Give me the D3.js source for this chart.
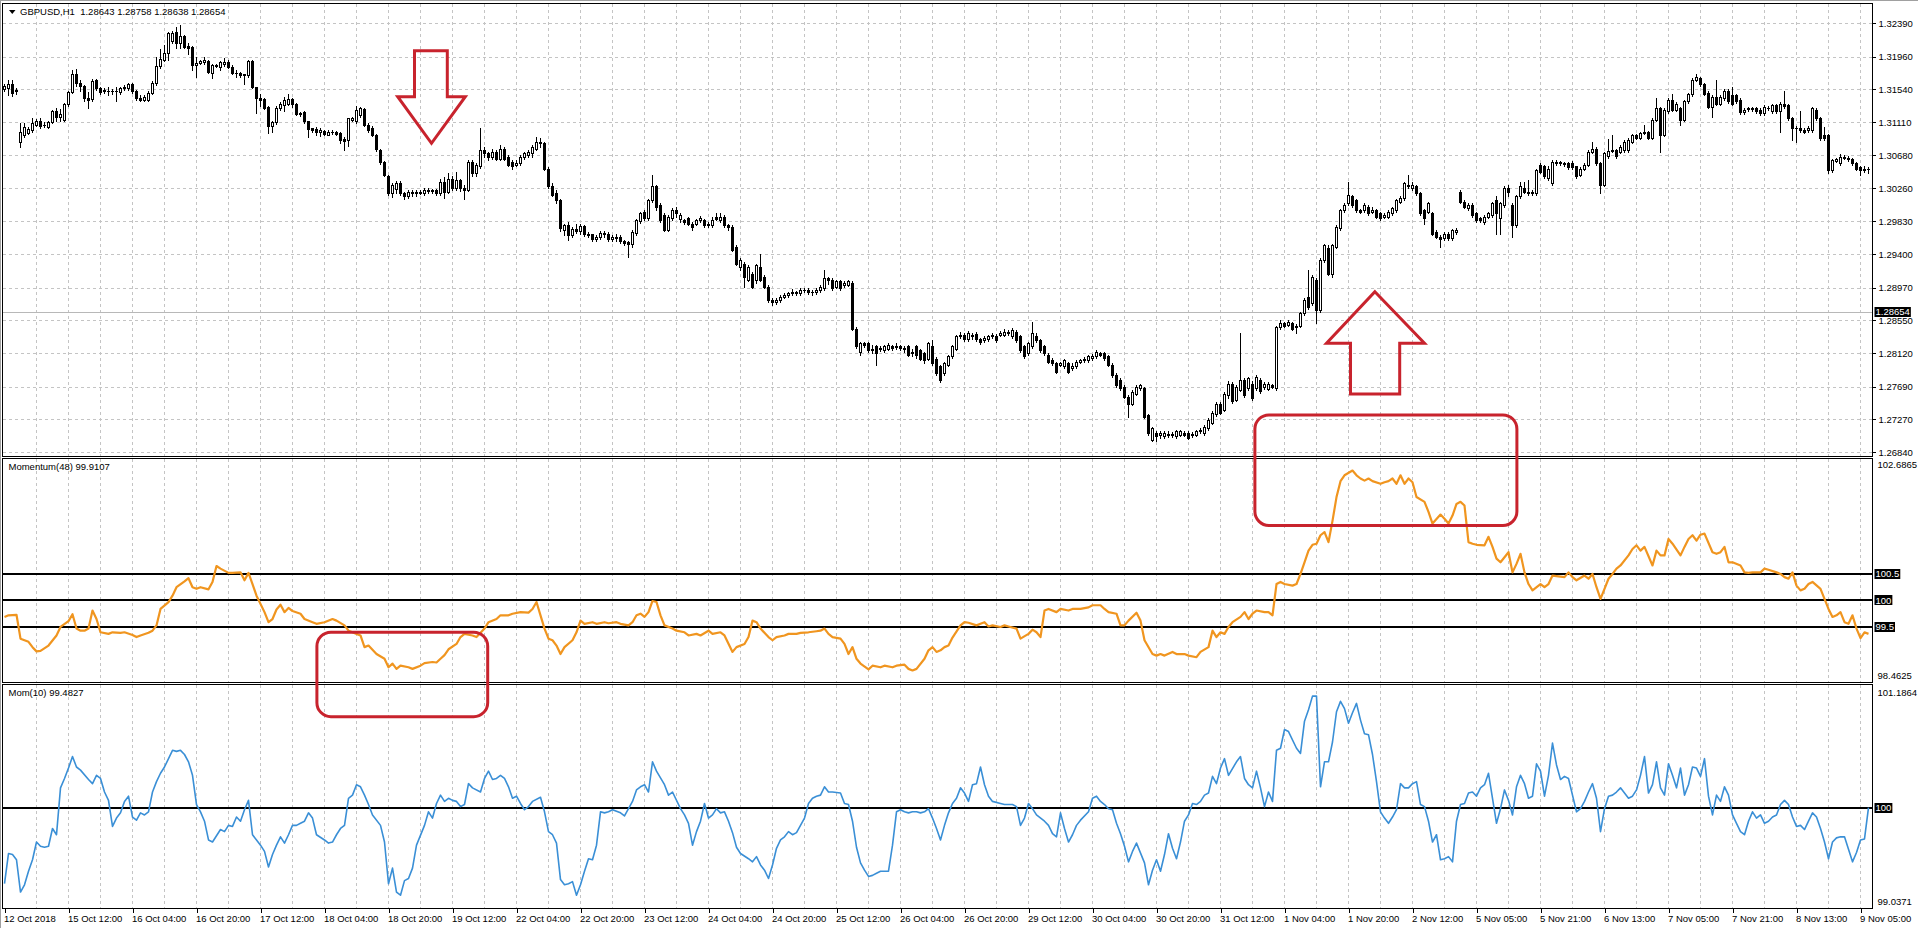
<!DOCTYPE html>
<html><head><meta charset="utf-8">
<script src="https://cdn.jsdelivr.net/npm/d3@7/dist/d3.min.js"></script>
<style>
html,body{margin:0;padding:0;background:#fff;overflow:hidden;}
svg{display:block;font-family:"Liberation Sans",Arial,sans-serif;}
</style></head><body>
<svg id="chart" width="1918" height="928"></svg>
<script>
// ---------------- DATA ----------------
const headerText = "GBPUSD,H1  1.28643 1.28758 1.28638 1.28654";
const momLabel = "Momentum(48) 99.9107";
const mom10Label = "Mom(10) 99.4827";
const bidPrice = 1.28654;

const timeLabels = ["12 Oct 2018","15 Oct 12:00","16 Oct 04:00","16 Oct 20:00","17 Oct 12:00","18 Oct 04:00","18 Oct 20:00","19 Oct 12:00","22 Oct 04:00","22 Oct 20:00","23 Oct 12:00","24 Oct 04:00","24 Oct 20:00","25 Oct 12:00","26 Oct 04:00","26 Oct 20:00","29 Oct 12:00","30 Oct 04:00","30 Oct 20:00","31 Oct 12:00","1 Nov 04:00","1 Nov 20:00","2 Nov 12:00","5 Nov 05:00","5 Nov 21:00","6 Nov 13:00","7 Nov 05:00","7 Nov 21:00","8 Nov 13:00","9 Nov 05:00"];
const priceTicks = [1.32390,1.31960,1.31540,1.31110,1.30680,1.30260,1.29830,1.29400,1.28970,1.28550,1.28120,1.27690,1.27270,1.26840];
const priceRange = [1.26792, 1.32653];
const momRange = [98.4625, 102.6865];
const mom10Range = [99.0371, 101.1864];
const momLevels = [100.5, 100, 99.5];
const mom10Levels = [100];

const opens = [
1.3154,1.3155,1.3161,1.3151,1.3086,1.3095,1.3097,1.3101,1.3108,1.3113,
1.3107,1.3105,1.3111,1.3125,1.3118,1.3114,1.3134,1.3150,1.3174,1.3162,
1.3158,1.3143,1.3141,1.3166,1.3155,1.3151,1.3152,1.3151,1.3151,1.3150,
1.3155,1.3155,1.3160,1.3151,1.3143,1.3140,1.3140,1.3149,1.3162,1.3184,
1.3192,1.3200,1.3216,1.3228,1.3213,1.3222,1.3210,1.3208,1.3185,1.3188,
1.3189,1.3190,1.3175,1.3184,1.3183,1.3186,1.3189,1.3183,1.3175,1.3175,
1.3172,1.3172,1.3190,1.3156,1.3143,1.3141,1.3131,1.3106,1.3111,1.3129,
1.3133,1.3135,1.3141,1.3134,1.3123,1.3124,1.3112,1.3103,1.3102,1.3099,
1.3100,1.3095,1.3099,1.3098,1.3097,1.3089,1.3088,1.3114,1.3112,1.3120,
1.3128,1.3108,1.3104,1.3095,1.3075,1.3060,1.3042,1.3019,1.3025,1.3032,
1.3019,1.3015,1.3021,1.3019,1.3021,1.3019,1.3024,1.3022,1.3023,1.3019,
1.3034,1.3021,1.3038,1.3026,1.3036,1.3026,1.3024,1.3060,1.3045,1.3054,
1.3075,1.3071,1.3066,1.3073,1.3064,1.3077,1.3066,1.3060,1.3056,1.3058,
1.3066,1.3069,1.3071,1.3077,1.3086,1.3084,1.3051,1.3028,1.3019,1.3010,
1.2972,1.2978,1.2965,1.2973,1.2970,1.2977,1.2967,1.2966,1.2960,1.2962,
1.2968,1.2967,1.2960,1.2963,1.2963,1.2957,1.2956,1.2953,1.2968,1.2983,
1.2995,1.2987,1.3010,1.3028,1.3004,1.2991,1.2972,1.2987,1.2997,1.2986,
1.2984,1.2987,1.2980,1.2980,1.2984,1.2984,1.2980,1.2978,1.2989,1.2984,
1.2989,1.2978,1.2976,1.2950,1.2924,1.2928,1.2907,1.2915,1.2907,1.2924,
1.2911,1.2898,1.2881,1.2879,1.2881,1.2885,1.2887,1.2890,1.2891,1.2890,
1.2894,1.2894,1.2892,1.2891,1.2894,1.2896,1.2909,1.2907,1.2898,1.2905,
1.2900,1.2901,1.2903,1.2844,1.2814,1.2825,1.2825,1.2818,1.2821,1.2817,
1.2816,1.2818,1.2821,1.2820,1.2821,1.2819,1.2821,1.2814,1.2821,1.2816,
1.2812,1.2805,1.2821,1.2805,1.2795,1.2786,1.2797,1.2808,1.2818,1.2834,
1.2836,1.2830,1.2836,1.2837,1.2830,1.2829,1.2830,1.2834,1.2835,1.2836,
1.2836,1.2838,1.2834,1.2840,1.2834,1.2821,1.2812,1.2821,1.2834,1.2829,
1.2821,1.2810,1.2803,1.2799,1.2797,1.2795,1.2799,1.2793,1.2795,1.2801,
1.2803,1.2803,1.2806,1.2808,1.2812,1.2812,1.2808,1.2797,1.2784,1.2778,
1.2769,1.2756,1.2747,1.2760,1.2767,1.2767,1.2732,1.2700,1.2709,1.2706,
1.2705,1.2708,1.2706,1.2705,1.2707,1.2709,1.2709,1.2706,1.2707,1.2711,
1.2709,1.2715,1.2722,1.2733,1.2747,1.2739,1.2758,1.2773,1.2752,1.2765,
1.2778,1.2767,1.2773,1.2767,1.2778,1.2768,1.2766,1.2771,1.2767,1.2846,
1.2851,1.2849,1.2851,1.2846,1.2848,1.2864,1.2885,1.2877,1.2907,1.2868,
1.2933,1.2948,1.2915,1.2950,1.2974,1.2997,1.3006,1.3015,1.3010,1.2997,
1.2997,1.3002,1.2995,1.2997,1.2993,1.2989,1.2989,1.2993,1.2997,1.3008,
1.3013,1.3030,1.3026,1.3028,1.3019,1.2997,1.2995,1.2993,1.2969,1.2963,
1.2961,1.2967,1.2961,1.2969,1.3021,1.3008,1.3000,1.3004,1.2993,1.2987,
1.2982,1.2989,1.2991,1.3010,1.2987,1.3004,1.3026,1.3004,1.2978,1.3015,
1.3026,1.3021,1.3019,1.3019,1.3056,1.3054,1.3039,1.3032,1.3058,1.3059,
1.3058,1.3058,1.3058,1.3054,1.3043,1.3051,1.3056,1.3073,1.3077,1.3058,
1.3030,1.3067,1.3074,1.3075,1.3073,1.3075,1.3075,1.3086,1.3094,1.3091,
1.3097,1.3098,1.3091,1.3114,1.3129,1.3095,1.3125,1.3140,1.3127,1.3129,
1.3114,1.3138,1.3147,1.3166,1.3168,1.3160,1.3149,1.3131,1.3144,1.3135,
1.3142,1.3152,1.3146,1.3146,1.3140,1.3124,1.3128,1.3129,1.3129,1.3127,
1.3123,1.3130,1.3125,1.3133,1.3125,1.3135,1.3133,1.3116,1.3103,1.3104,
1.3101,1.3101,1.3101,1.3127,1.3116,1.3094,1.3094,1.3049,1.3061,1.3058,
1.3066,1.3065,1.3063,1.3058,1.3053,1.3049,1.3051];

const highs = [
1.3161,1.3166,1.3166,1.3155,1.3110,1.3110,1.3105,1.3116,1.3115,1.3116,
1.3111,1.3113,1.3127,1.3130,1.3128,1.3136,1.3152,1.3179,1.3180,1.3166,
1.3159,1.3150,1.3167,1.3167,1.3157,1.3155,1.3156,1.3154,1.3157,1.3157,
1.3159,1.3162,1.3162,1.3153,1.3146,1.3146,1.3152,1.3164,1.3196,1.3206,
1.3211,1.3228,1.3229,1.3234,1.3237,1.3224,1.3213,1.3210,1.3196,1.3192,
1.3196,1.3192,1.3187,1.3187,1.3190,1.3194,1.3191,1.3185,1.3178,1.3176,
1.3174,1.3192,1.3192,1.3157,1.3148,1.3143,1.3132,1.3113,1.3132,1.3137,
1.3144,1.3148,1.3143,1.3136,1.3124,1.3125,1.3113,1.3104,1.3105,1.3103,
1.3101,1.3101,1.3101,1.3100,1.3099,1.3092,1.3117,1.3118,1.3132,1.3131,
1.3130,1.3110,1.3106,1.3096,1.3076,1.3061,1.3043,1.3032,1.3035,1.3035,
1.3021,1.3023,1.3024,1.3023,1.3024,1.3026,1.3026,1.3025,1.3025,1.3038,
1.3040,1.3045,1.3041,1.3047,1.3038,1.3030,1.3062,1.3062,1.3058,1.3103,
1.3079,1.3073,1.3077,1.3075,1.3082,1.3079,1.3069,1.3062,1.3062,1.3068,
1.3073,1.3075,1.3082,1.3092,1.3090,1.3086,1.3053,1.3032,1.3023,1.3012,
1.2980,1.2982,1.2976,1.2980,1.2979,1.2978,1.2969,1.2967,1.2965,1.2970,
1.2970,1.2969,1.2965,1.2966,1.2965,1.2959,1.2958,1.2971,1.2986,1.2995,
1.2998,1.3012,1.3043,1.3030,1.3006,1.2993,1.2991,1.3000,1.3002,1.2993,
1.2986,1.2989,1.2982,1.2986,1.2990,1.2986,1.2982,1.2989,1.2993,1.2993,
1.2991,1.2980,1.2978,1.2952,1.2935,1.2930,1.2926,1.2917,1.2928,1.2941,
1.2913,1.2900,1.2883,1.2884,1.2888,1.2890,1.2892,1.2895,1.2893,1.2897,
1.2897,1.2896,1.2894,1.2896,1.2900,1.2920,1.2911,1.2909,1.2907,1.2907,
1.2905,1.2907,1.2905,1.2846,1.2827,1.2827,1.2827,1.2823,1.2823,1.2821,
1.2823,1.2826,1.2823,1.2825,1.2823,1.2822,1.2823,1.2817,1.2823,1.2818,
1.2814,1.2827,1.2829,1.2807,1.2797,1.2801,1.2810,1.2823,1.2836,1.2840,
1.2838,1.2841,1.2838,1.2839,1.2832,1.2834,1.2836,1.2838,1.2837,1.2841,
1.2843,1.2842,1.2845,1.2842,1.2836,1.2823,1.2827,1.2853,1.2838,1.2831,
1.2823,1.2812,1.2806,1.2801,1.2801,1.2805,1.2801,1.2799,1.2803,1.2805,
1.2807,1.2810,1.2811,1.2816,1.2814,1.2814,1.2810,1.2799,1.2786,1.2780,
1.2771,1.2758,1.2764,1.2771,1.2773,1.2769,1.2734,1.2717,1.2711,1.2711,
1.2711,1.2711,1.2710,1.2713,1.2713,1.2711,1.2711,1.2710,1.2713,1.2716,
1.2719,1.2728,1.2737,1.2749,1.2749,1.2762,1.2776,1.2775,1.2771,1.2838,
1.2780,1.2782,1.2776,1.2784,1.2780,1.2775,1.2775,1.2773,1.2848,1.2855,
1.2853,1.2855,1.2853,1.2850,1.2866,1.2883,1.2920,1.2913,1.2909,1.2936,
1.2954,1.2952,1.2954,1.2978,1.2999,1.3006,1.3034,1.3017,1.3012,1.2999,
1.3006,1.3004,1.3002,1.2999,1.2995,1.2993,1.2997,1.3002,1.3012,1.3015,
1.3034,1.3043,1.3034,1.3030,1.3021,1.2999,1.3008,1.2995,1.2971,1.2965,
1.2969,1.2969,1.2973,1.2974,1.3023,1.3010,1.3006,1.3006,1.2995,1.2989,
1.2991,1.2995,1.3008,1.3015,1.3008,1.3028,1.3030,1.3006,1.3017,1.3034,
1.3034,1.3036,1.3023,1.3051,1.3058,1.3056,1.3054,1.3062,1.3062,1.3061,
1.3060,1.3060,1.3061,1.3055,1.3053,1.3058,1.3075,1.3086,1.3079,1.3060,
1.3073,1.3089,1.3094,1.3077,1.3081,1.3088,1.3091,1.3096,1.3096,1.3099,
1.3107,1.3100,1.3116,1.3142,1.3131,1.3129,1.3142,1.3148,1.3137,1.3131,
1.3140,1.3149,1.3168,1.3174,1.3170,1.3162,1.3151,1.3146,1.3166,1.3146,
1.3154,1.3154,1.3157,1.3148,1.3142,1.3129,1.3131,1.3131,1.3131,1.3129,
1.3133,1.3132,1.3135,1.3135,1.3137,1.3151,1.3135,1.3118,1.3106,1.3125,
1.3103,1.3106,1.3131,1.3129,1.3118,1.3105,1.3096,1.3064,1.3065,1.3070,
1.3068,1.3067,1.3065,1.3060,1.3055,1.3054,1.3053];

const lows = [
1.3151,1.3146,1.3145,1.3148,1.3079,1.3092,1.3096,1.3099,1.3106,1.3104,
1.3105,1.3103,1.3110,1.3112,1.3113,1.3112,1.3132,1.3149,1.3158,1.3151,
1.3138,1.3129,1.3139,1.3153,1.3147,1.3149,1.3146,1.3148,1.3138,1.3148,
1.3153,1.3153,1.3149,1.3140,1.3138,1.3138,1.3138,1.3147,1.3159,1.3181,
1.3190,1.3191,1.3214,1.3207,1.3207,1.3207,1.3199,1.3178,1.3169,1.3186,
1.3187,1.3175,1.3168,1.3182,1.3179,1.3184,1.3181,1.3173,1.3169,1.3170,
1.3160,1.3170,1.3155,1.3123,1.3132,1.3128,1.3097,1.3099,1.3109,1.3127,
1.3125,1.3133,1.3131,1.3120,1.3119,1.3110,1.3092,1.3099,1.3094,1.3093,
1.3094,1.3094,1.3096,1.3095,1.3084,1.3075,1.3080,1.3112,1.3110,1.3118,
1.3106,1.3099,1.3093,1.3074,1.3057,1.3041,1.3017,1.3014,1.3020,1.3017,
1.3012,1.3013,1.3016,1.3015,1.3018,1.3017,1.3019,1.3020,1.3017,1.3017,
1.3013,1.3019,1.3023,1.3024,1.3022,1.3012,1.3022,1.3041,1.3041,1.3052,
1.3066,1.3062,1.3064,1.3062,1.3062,1.3062,1.3054,1.3051,1.3054,1.3056,
1.3064,1.3066,1.3066,1.3075,1.3079,1.3049,1.3026,1.3015,1.3006,1.2970,
1.2965,1.2959,1.2962,1.2968,1.2967,1.2964,1.2962,1.2957,1.2958,1.2960,
1.2963,1.2958,1.2958,1.2958,1.2955,1.2952,1.2937,1.2950,1.2965,1.2981,
1.2984,1.2984,1.3008,1.2998,1.2982,1.2970,1.2970,1.2984,1.2989,1.2982,
1.2980,1.2978,1.2972,1.2978,1.2982,1.2976,1.2976,1.2976,1.2984,1.2982,
1.2976,1.2972,1.2944,1.2926,1.2920,1.2898,1.2905,1.2896,1.2903,1.2905,
1.2896,1.2879,1.2875,1.2876,1.2879,1.2883,1.2885,1.2888,1.2887,1.2888,
1.2892,1.2889,1.2888,1.2889,1.2892,1.2894,1.2902,1.2894,1.2896,1.2894,
1.2898,1.2899,1.2842,1.2819,1.2810,1.2820,1.2814,1.2812,1.2797,1.2815,
1.2814,1.2816,1.2816,1.2818,1.2816,1.2814,1.2808,1.2809,1.2806,1.2803,
1.2800,1.2803,1.2797,1.2784,1.2775,1.2784,1.2795,1.2806,1.2816,1.2832,
1.2828,1.2828,1.2831,1.2828,1.2824,1.2827,1.2828,1.2832,1.2827,1.2834,
1.2834,1.2836,1.2832,1.2827,1.2814,1.2806,1.2810,1.2819,1.2827,1.2814,
1.2810,1.2799,1.2797,1.2786,1.2795,1.2793,1.2786,1.2791,1.2793,1.2799,
1.2801,1.2801,1.2804,1.2806,1.2808,1.2804,1.2795,1.2782,1.2769,1.2765,
1.2754,1.2730,1.2745,1.2758,1.2765,1.2728,1.2707,1.2698,1.2698,1.2703,
1.2703,1.2704,1.2704,1.2703,1.2705,1.2705,1.2701,1.2704,1.2705,1.2709,
1.2707,1.2713,1.2720,1.2731,1.2733,1.2737,1.2754,1.2748,1.2750,1.2763,
1.2756,1.2765,1.2752,1.2765,1.2761,1.2766,1.2764,1.2767,1.2765,1.2844,
1.2846,1.2847,1.2842,1.2838,1.2846,1.2862,1.2870,1.2875,1.2851,1.2866,
1.2930,1.2913,1.2911,1.2948,1.2972,1.2995,1.3004,1.3002,1.2995,1.2993,
1.2995,1.2991,1.2993,1.2987,1.2985,1.2987,1.2987,1.2991,1.2995,1.3006,
1.3010,1.3026,1.3024,1.3017,1.2991,1.2980,1.2993,1.2965,1.2961,1.2950,
1.2959,1.2959,1.2959,1.2966,1.3006,1.3000,1.2998,1.2989,1.2982,1.2982,
1.2980,1.2987,1.2989,1.2967,1.2967,1.3002,1.3015,1.2963,1.2976,1.3013,
1.3019,1.3017,1.3017,1.3017,1.3045,1.3039,1.3036,1.3030,1.3056,1.3056,
1.3054,1.3051,1.3051,1.3039,1.3041,1.3049,1.3054,1.3071,1.3056,1.3019,
1.3028,1.3065,1.3072,1.3065,1.3071,1.3073,1.3073,1.3084,1.3089,1.3089,
1.3096,1.3089,1.3089,1.3112,1.3073,1.3093,1.3123,1.3125,1.3125,1.3107,
1.3112,1.3136,1.3145,1.3164,1.3158,1.3146,1.3129,1.3118,1.3133,1.3133,
1.3140,1.3136,1.3133,1.3136,1.3122,1.3122,1.3126,1.3126,1.3123,1.3120,
1.3121,1.3127,1.3123,1.3123,1.3099,1.3130,1.3114,1.3088,1.3086,1.3099,
1.3097,1.3099,1.3099,1.3114,1.3088,1.3088,1.3045,1.3047,1.3059,1.3056,
1.3063,1.3061,1.3056,1.3049,1.3043,1.3047,1.3045];

const closes = [
1.3158,1.3161,1.3149,1.3153,1.3099,1.3105,1.3102,1.3110,1.3112,1.3106,
1.3108,1.3111,1.3125,1.3118,1.3122,1.3134,1.3150,1.3174,1.3162,1.3158,
1.3143,1.3140,1.3165,1.3155,1.3150,1.3153,1.3151,1.3151,1.3152,1.3155,
1.3156,1.3160,1.3151,1.3142,1.3140,1.3144,1.3149,1.3162,1.3184,1.3193,
1.3201,1.3226,1.3227,1.3213,1.3222,1.3209,1.3207,1.3185,1.3188,1.3190,
1.3192,1.3176,1.3185,1.3185,1.3189,1.3189,1.3183,1.3175,1.3175,1.3172,
1.3173,1.3190,1.3156,1.3142,1.3140,1.3130,1.3106,1.3111,1.3130,1.3134,
1.3140,1.3141,1.3134,1.3122,1.3122,1.3112,1.3102,1.3101,1.3099,1.3101,
1.3096,1.3099,1.3098,1.3096,1.3088,1.3087,1.3116,1.3116,1.3127,1.3129,
1.3108,1.3101,1.3095,1.3076,1.3059,1.3043,1.3019,1.3030,1.3032,1.3019,
1.3015,1.3021,1.3019,1.3021,1.3020,1.3024,1.3022,1.3023,1.3019,1.3034,
1.3021,1.3038,1.3026,1.3036,1.3026,1.3024,1.3060,1.3045,1.3056,1.3075,
1.3071,1.3066,1.3073,1.3064,1.3077,1.3064,1.3056,1.3054,1.3058,1.3066,
1.3071,1.3073,1.3079,1.3086,1.3084,1.3051,1.3028,1.3017,1.3010,1.2974,
1.2978,1.2965,1.2973,1.2970,1.2977,1.2967,1.2965,1.2960,1.2962,1.2968,
1.2966,1.2960,1.2963,1.2961,1.2957,1.2955,1.2953,1.2969,1.2984,1.2993,
1.2987,1.3010,1.3028,1.3002,1.2984,1.2972,1.2989,1.2997,1.2993,1.2991,
1.2982,1.2980,1.2976,1.2984,1.2987,1.2978,1.2978,1.2985,1.2986,1.2989,
1.2978,1.2976,1.2946,1.2928,1.2933,1.2911,1.2924,1.2898,1.2926,1.2907,
1.2898,1.2881,1.2879,1.2881,1.2885,1.2888,1.2890,1.2892,1.2890,1.2894,
1.2894,1.2892,1.2891,1.2894,1.2898,1.2909,1.2907,1.2896,1.2905,1.2896,
1.2903,1.2905,1.2844,1.2821,1.2825,1.2823,1.2816,1.2816,1.2812,1.2819,
1.2821,1.2823,1.2819,1.2821,1.2819,1.2817,1.2810,1.2812,1.2810,1.2805,
1.2803,1.2825,1.2799,1.2786,1.2778,1.2799,1.2808,1.2821,1.2834,1.2836,
1.2830,1.2838,1.2834,1.2830,1.2827,1.2832,1.2834,1.2836,1.2829,1.2838,
1.2839,1.2840,1.2842,1.2829,1.2816,1.2808,1.2825,1.2838,1.2829,1.2816,
1.2812,1.2801,1.2799,1.2788,1.2799,1.2803,1.2788,1.2795,1.2801,1.2803,
1.2805,1.2808,1.2808,1.2814,1.2810,1.2806,1.2797,1.2784,1.2771,1.2767,
1.2756,1.2747,1.2762,1.2769,1.2771,1.2730,1.2709,1.2715,1.2705,1.2709,
1.2709,1.2706,1.2708,1.2711,1.2711,1.2707,1.2703,1.2708,1.2711,1.2713,
1.2717,1.2726,1.2735,1.2747,1.2735,1.2760,1.2773,1.2750,1.2769,1.2778,
1.2758,1.2780,1.2754,1.2782,1.2763,1.2773,1.2773,1.2769,1.2846,1.2851,
1.2848,1.2853,1.2844,1.2848,1.2864,1.2881,1.2872,1.2911,1.2868,1.2933,
1.2952,1.2915,1.2952,1.2976,1.2997,1.3004,1.3017,1.3004,1.2997,1.2995,
1.3004,1.2993,1.2997,1.2989,1.2987,1.2991,1.2995,1.3000,1.3010,1.3013,
1.3032,1.3028,1.3030,1.3019,1.2993,1.2987,1.3006,1.2967,1.2963,1.2960,
1.2967,1.2961,1.2971,1.2971,1.3008,1.3002,1.3004,1.2991,1.2984,1.2984,
1.2989,1.2993,1.3006,1.2993,1.3006,1.3026,1.3021,1.2978,1.3015,1.3028,
1.3021,1.3019,1.3021,1.3049,1.3047,1.3041,1.3051,1.3060,1.3059,1.3058,
1.3057,1.3053,1.3053,1.3041,1.3051,1.3056,1.3073,1.3077,1.3058,1.3030,
1.3071,1.3074,1.3075,1.3067,1.3079,1.3086,1.3088,1.3094,1.3091,1.3097,
1.3099,1.3091,1.3114,1.3129,1.3095,1.3127,1.3140,1.3127,1.3135,1.3114,
1.3138,1.3147,1.3166,1.3169,1.3160,1.3148,1.3131,1.3144,1.3135,1.3144,
1.3152,1.3138,1.3135,1.3138,1.3124,1.3127,1.3129,1.3128,1.3125,1.3123,
1.3131,1.3129,1.3133,1.3125,1.3135,1.3132,1.3116,1.3103,1.3104,1.3101,
1.3099,1.3104,1.3129,1.3116,1.3090,1.3090,1.3049,1.3062,1.3063,1.3066,
1.3065,1.3063,1.3058,1.3051,1.3049,1.3051,1.3050];

// Momentum(48) readings: bar index -> value
const momIdx = [0,1,3,4,6,7,8,9,11,13,14,16,17,18,19,20,21,22,23,24,26,27,29,30,32,33,34,36,37,38,39,41,42,43,45,46,47,48,49,51,52,53,54,56,57,59,60,61,62,63,65,66,67,68,69,70,71,72,74,75,77,78,80,82,83,85,86,87,88,89,90,91,93,95,96,97,98,99,101,102,104,105,107,108,109,110,111,113,114,115,117,118,120,121,123,124,126,127,129,131,132,133,134,135,136,137,138,139,140,142,143,144,145,147,148,150,151,153,154,156,157,158,159,160,161,162,163,164,165,167,168,170,171,173,174,176,177,179,180,182,183,185,186,187,188,189,191,192,193,195,196,198,199,201,203,204,205,206,207,209,210,211,212,213,214,216,217,219,220,222,223,225,226,227,228,230,231,232,233,234,235,236,237,239,240,241,243,244,245,246,247,249,250,251,253,254,256,257,258,259,260,261,263,264,266,267,269,271,272,274,275,276,278,279,280,281,283,284,285,287,288,289,290,292,293,295,296,298,299,301,302,303,304,305,306,307,309,310,311,312,313,315,316,317,318,319,320,322,323,324,325,326,327,328,329,330,331,332,333,334,335,337,338,339,340,341,342,344,345,346,347,348,349,350,351,352,353,355,356,357,359,360,361,362,363,364,365,366,367,368,370,371,372,373,374,376,377,378,379,380,381,382,384,385,386,387,388,390,391,392,393,395,396,397,398,399,400,401,402,403,404,406,407,408,409,410,412,413,414,415,416,417,419,420,421,422,423,424,425,427,428,429,430,431,432,434,435,436,437,439,440,441,443,444,445,446,447,448,449,450,451,452,454,455,456,457,458,459,460,461,462,463,464,465,466];
const momVal = [99.69,99.72,99.73,99.28,99.22,99.12,99.04,99.05,99.15,99.34,99.50,99.61,99.74,99.47,99.43,99.43,99.47,99.81,99.65,99.40,99.37,99.40,99.39,99.40,99.35,99.31,99.34,99.39,99.43,99.53,99.84,99.97,100.09,100.25,100.36,100.42,100.25,100.22,100.25,100.21,100.35,100.65,100.60,100.52,100.52,100.53,100.38,100.52,100.31,100.09,99.78,99.59,99.65,99.83,99.92,99.78,99.86,99.80,99.75,99.65,99.59,99.56,99.59,99.65,99.62,99.53,99.43,99.40,99.37,99.34,99.12,99.15,98.99,98.90,98.74,98.81,98.71,98.77,98.74,98.71,98.77,98.82,98.84,98.83,98.90,98.97,99.08,99.18,99.31,99.37,99.34,99.31,99.47,99.59,99.65,99.72,99.72,99.75,99.78,99.77,99.84,99.97,99.72,99.47,99.28,99.25,99.15,98.99,99.12,99.25,99.40,99.62,99.56,99.59,99.56,99.59,99.57,99.59,99.56,99.53,99.59,99.72,99.75,99.69,99.78,99.99,99.97,99.72,99.53,99.47,99.43,99.40,99.34,99.37,99.34,99.43,99.37,99.40,99.34,99.03,99.12,99.18,99.31,99.62,99.59,99.47,99.31,99.25,99.31,99.34,99.37,99.37,99.39,99.40,99.42,99.43,99.47,99.37,99.31,99.28,99.18,98.99,99.12,98.90,98.81,98.70,98.77,98.74,98.77,98.74,98.77,98.79,98.71,98.68,98.71,98.90,99.06,99.12,99.03,99.06,99.12,99.15,99.30,99.53,99.59,99.58,99.53,99.56,99.59,99.51,99.53,99.50,99.53,99.51,99.47,99.28,99.37,99.45,99.40,99.31,99.81,99.84,99.78,99.84,99.81,99.84,99.84,99.87,99.91,99.91,99.84,99.78,99.75,99.53,99.53,99.62,99.77,99.62,99.25,98.99,98.96,98.99,98.96,99.03,98.99,98.99,98.96,98.93,99.03,99.12,99.43,99.31,99.40,99.37,99.50,99.59,99.69,99.78,99.65,99.75,99.81,99.78,99.78,99.72,100.31,100.35,100.31,100.28,100.31,100.50,100.72,100.94,101.05,101.07,101.23,101.29,101.10,101.50,101.95,102.25,102.36,102.45,102.36,102.30,102.26,102.30,102.25,102.20,102.23,102.25,102.30,102.20,102.36,102.20,102.30,102.23,101.95,101.86,101.67,101.45,101.62,101.54,101.45,101.60,101.82,101.86,101.79,101.10,101.07,101.05,101.04,101.20,101.01,100.79,100.72,100.91,100.53,100.69,100.88,100.53,100.31,100.19,100.31,100.25,100.31,100.47,100.46,100.44,100.53,100.44,100.38,100.47,100.41,100.50,100.25,100.03,100.22,100.41,100.50,100.60,100.66,100.85,100.97,101.04,100.94,101.01,100.66,100.94,100.85,100.85,101.16,101.07,100.85,101.01,101.16,101.23,101.13,101.24,101.26,100.91,100.88,100.91,101.01,100.72,100.72,100.66,100.53,100.52,100.53,100.53,100.60,100.58,100.53,100.50,100.44,100.41,100.53,100.28,100.19,100.22,100.31,100.35,100.22,100.03,99.84,99.69,99.72,99.78,99.59,99.56,99.72,99.47,99.29,99.40,99.37];

// Mom(10) readings: bar index -> value
const mom10Idx = [0,1,2,3,4,5,6,7,8,9,10,11,12,13,14,15,16,17,18,19,21,22,23,24,25,26,27,28,29,30,31,32,33,34,35,36,37,38,39,40,42,43,44,45,46,47,48,49,50,51,52,54,55,56,57,58,59,60,61,62,63,64,65,66,67,68,69,70,71,72,73,74,75,76,77,78,80,81,82,83,84,85,86,87,88,89,90,91,92,94,95,96,97,98,99,100,101,102,103,105,106,107,108,109,110,111,112,113,114,115,116,117,119,120,121,122,123,124,125,126,127,128,129,130,131,132,134,135,136,137,138,139,140,141,142,143,144,145,146,147,148,149,150,151,152,154,155,157,158,159,160,161,162,163,165,166,167,169,170,171,172,173,174,175,176,177,178,179,180,181,182,183,184,186,187,188,189,190,191,192,193,194,195,196,197,198,200,201,202,203,204,205,206,207,209,210,211,212,213,214,215,216,217,218,219,220,221,222,223,224,225,226,227,228,229,230,231,232,233,234,235,236,237,238,239,240,241,242,243,244,245,246,247,249,250,252,253,254,255,256,257,258,260,261,262,263,264,265,266,267,268,269,271,272,273,274,275,276,277,278,279,280,281,282,283,285,286,287,288,289,290,291,292,293,294,295,296,297,298,299,300,301,302,303,304,305,306,308,309,310,311,312,313,314,315,316,317,318,319,320,321,323,324,325,326,327,328,329,330,331,332,333,334,335,336,337,338,339,340,341,342,343,344,345,346,347,348,349,350,351,352,353,354,355,356,357,358,359,360,361,362,363,364,365,366,367,368,369,370,371,373,374,375,376,377,378,379,380,381,382,383,384,385,386,387,388,389,390,391,393,394,395,396,397,398,399,400,401,402,403,404,405,406,407,408,409,410,411,412,413,414,415,416,417,418,419,420,421,422,423,424,425,426,427,428,429,430,431,432,433,434,435,436,437,438,439,440,441,442,443,444,445,446,447,448,449,450,451,452,453,454,455,456,457,458,459,460,461,462,463,464,465,466];
const mom10Val = [99.27,99.56,99.55,99.50,99.19,99.26,99.39,99.50,99.67,99.63,99.62,99.63,99.80,99.74,100.19,100.28,100.38,100.49,100.39,100.36,100.27,100.23,100.31,100.28,100.15,100.07,99.82,99.90,99.95,100.06,100.11,99.91,99.88,99.95,99.93,99.96,100.15,100.25,100.33,100.39,100.55,100.54,100.55,100.51,100.44,100.31,100.03,99.96,99.87,99.69,99.67,99.79,99.77,99.83,99.82,99.91,99.87,99.98,100.07,99.74,99.69,99.64,99.58,99.43,99.55,99.64,99.72,99.66,99.74,99.83,99.83,99.85,99.87,99.95,99.90,99.74,99.69,99.66,99.67,99.74,99.80,99.83,100.09,100.12,100.22,100.20,100.12,100.03,99.93,99.83,99.67,99.27,99.42,99.19,99.16,99.30,99.32,99.42,99.64,99.83,99.96,99.90,100.04,100.12,100.06,100.09,100.07,100.06,100.01,100.03,100.23,100.19,100.15,100.28,100.35,100.27,100.28,100.31,100.28,100.20,100.09,100.11,100.04,99.98,100.01,100.06,100.10,99.96,99.77,99.74,99.66,99.31,99.26,99.27,99.29,99.16,99.26,99.39,99.51,99.50,99.64,99.96,99.95,99.96,99.98,99.95,99.92,100.06,100.17,100.20,100.22,100.15,100.44,100.35,100.22,100.12,100.15,99.99,99.93,99.85,99.64,99.77,99.87,100.04,99.90,99.93,99.99,99.95,99.96,99.87,99.76,99.62,99.56,99.51,99.48,99.53,99.45,99.40,99.32,99.45,99.61,99.69,99.72,99.77,99.74,99.76,99.90,100.04,100.09,100.11,100.12,100.20,100.15,100.15,100.14,100.04,100.03,99.87,99.62,99.47,99.40,99.34,99.35,99.37,99.39,99.39,99.39,99.64,99.96,99.98,99.96,99.95,99.96,99.96,99.95,99.96,99.99,99.90,99.80,99.69,99.83,99.95,100.04,100.09,100.19,100.14,100.06,100.22,100.23,100.39,100.22,100.11,100.06,100.04,100.03,100.03,100.01,99.83,99.90,100.04,99.99,99.93,99.87,99.83,99.75,99.72,99.95,99.80,99.67,99.74,99.83,99.88,99.96,100.09,100.11,100.06,100.03,99.99,99.98,99.85,99.75,99.63,99.48,99.58,99.66,99.47,99.26,99.40,99.50,99.39,99.55,99.75,99.61,99.51,99.67,99.87,99.93,100.04,100.03,100.06,100.12,100.14,100.30,100.23,100.38,100.47,100.31,100.44,100.49,100.28,100.22,100.19,100.35,100.19,100.01,100.15,100.06,100.55,100.57,100.75,100.73,100.57,100.52,100.83,100.94,101.07,101.07,100.20,100.44,100.44,100.63,100.92,101.02,100.95,100.81,100.91,101.00,100.84,100.71,100.70,100.51,100.25,99.96,99.90,99.85,99.91,99.98,100.23,100.19,100.19,100.23,100.25,100.03,100.01,99.87,99.67,99.74,99.50,99.51,99.53,99.48,99.87,100.03,100.04,100.14,100.15,100.11,100.19,100.22,100.33,99.85,99.99,100.17,100.07,99.93,100.20,100.31,100.23,100.09,100.11,100.42,100.35,100.11,100.31,100.62,100.41,100.27,100.30,100.28,99.96,99.99,100.06,100.15,100.23,100.09,99.77,99.99,100.11,100.12,100.15,100.19,100.14,100.09,100.11,100.17,100.31,100.49,100.14,100.22,100.44,100.19,100.12,100.42,100.31,100.19,100.38,100.12,100.22,100.39,100.38,100.30,100.47,100.11,99.93,100.12,100.06,100.20,100.12,99.93,99.85,99.77,99.74,99.87,99.96,99.90,99.93,99.85,99.87,99.91,99.93,100.03,100.07,100.03,99.91,99.82,99.83,99.79,99.87,99.95,99.91,99.80,99.67,99.51,99.67,99.71,99.72,99.72,99.60,99.48,99.57,99.69,99.70,100.00];

// Drawn annotations, in data units (bar index, price / indicator value)
const downArrow = [[102.5,1.32036],[110.7,1.32036],[110.7,1.31440],[115.2,1.31440],[106.75,1.30838],[98.3,1.31440],[102.5,1.31440]];
const upArrow = [[342.6,1.28918],[355.0,1.28250],[348.8,1.28250],[348.8,1.27594],[336.5,1.27594],[336.5,1.28250],[330.5,1.28250]];
const boxHigh = {x0:312.6, x1:378.1, topPrice:1.27323, bottomMom:101.415};
const boxLow = {x0:78.1, x1:120.8, topMom:99.402, bottomMom10:100.873};

// ---------------- LAYOUT ----------------
const svg = d3.select("#chart");
const W = 1918, H = 928;
const L = 2.5, R = 1872.5;
const panes = {
  price: {top:3.5, bot:456.5},
  mom:   {top:458.5, bot:682.5},
  mom10: {top:684.5, bot:908.5}
};
const FONT = "9.5px";
const red = "#c8232d";

const n = closes.length;
const x = d3.scaleLinear().domain([0, n-1]).range([4.5, 4.5 + 4*(n-1)]);
const yP = d3.scaleLinear().domain(priceRange).range([456, 3]);
const yM = d3.scaleLinear().domain(momRange).range([682, 458]);
const yK = d3.scaleLinear().domain(mom10Range).range([908, 684]);

svg.append("rect").attr("width", W).attr("height", H).attr("fill", "#fff");

// clip paths
const defs = svg.append("defs");
Object.entries(panes).forEach(([k,p]) => {
  defs.append("clipPath").attr("id","clip-"+k).append("rect")
    .attr("x", L).attr("y", p.top).attr("width", R-L).attr("height", p.bot-p.top);
});

// grid
const grid = svg.append("g").attr("shape-rendering","crispEdges")
  .attr("stroke","#c4c4c4").attr("stroke-dasharray","3,3").attr("stroke-width",1);
const gridBars = d3.range(8, n, 8);
Object.values(panes).forEach(p => {
  grid.selectAll(null).data(gridBars).enter().append("line")
    .attr("x1", d => x(d)).attr("x2", d => x(d))
    .attr("y1", p.top).attr("y2", p.bot);
});
grid.selectAll(null).data(priceTicks).enter().append("line")
  .attr("x1", L).attr("x2", R)
  .attr("y1", d => Math.round(yP(d)) + 0.5).attr("y2", d => Math.round(yP(d)) + 0.5);

// bid line
svg.append("line").attr("x1", L).attr("x2", R)
  .attr("y1", Math.round(yP(bidPrice))+0.5).attr("y2", Math.round(yP(bidPrice))+0.5)
  .attr("stroke","#b8b8b8").attr("stroke-width",1).attr("shape-rendering","crispEdges");

// level lines
const lev = svg.append("g").attr("stroke","#000").attr("stroke-width",2).attr("shape-rendering","crispEdges");
lev.selectAll(null).data(momLevels).enter().append("line")
  .attr("x1", L).attr("x2", R).attr("y1", d => Math.round(yM(d))).attr("y2", d => Math.round(yM(d)));
lev.selectAll(null).data(mom10Levels).enter().append("line")
  .attr("x1", L).attr("x2", R).attr("y1", d => Math.round(yK(d))).attr("y2", d => Math.round(yK(d)));

// candles
const candles = d3.range(n).map(i => ({i, o:opens[i], h:highs[i], l:lows[i], c:closes[i]}));
const cg = svg.append("g").attr("clip-path","url(#clip-price)").attr("shape-rendering","crispEdges");
const cand = cg.selectAll("g.c").data(candles).enter().append("g").attr("class","c");
cand.append("line")
  .attr("x1", d => x(d.i)).attr("x2", d => x(d.i))
  .attr("y1", d => Math.round(yP(d.h))).attr("y2", d => Math.round(yP(d.l))+1)
  .attr("stroke","#000").attr("stroke-width",1);
cand.each(function(d){
  const g = d3.select(this);
  const yt = Math.round(yP(Math.max(d.o,d.c))) + 0.5;
  const yb = Math.round(yP(Math.min(d.o,d.c))) + 0.5;
  if (yb - yt < 1) {
    g.append("line").attr("x1", x(d.i)-1.5).attr("x2", x(d.i)+1.5)
      .attr("y1", yt).attr("y2", yt).attr("stroke","#000").attr("stroke-width",1);
  } else {
    g.append("rect").attr("x", x(d.i)-1).attr("y", yt).attr("width", 2).attr("height", yb-yt)
      .attr("fill", d.c >= d.o ? "#fff" : "#000").attr("stroke","#000").attr("stroke-width",1);
  }
});

// indicator lines
const momLine = d3.line().x(d => x(d[0])).y(d => yM(d[1]));
svg.append("path").datum(d3.zip(momIdx, momVal)).attr("clip-path","url(#clip-mom)")
  .attr("d", momLine).attr("fill","none").attr("stroke","#f0951f").attr("stroke-width",2.2)
  .attr("stroke-linejoin","round");
const kLine = d3.line().x(d => x(d[0])).y(d => yK(d[1]));
svg.append("path").datum(d3.zip(mom10Idx, mom10Val)).attr("clip-path","url(#clip-mom10)")
  .attr("d", kLine).attr("fill","none").attr("stroke","#3a8fd6").attr("stroke-width",1.6)
  .attr("stroke-linejoin","round");

// pane borders
const borders = svg.append("g").attr("fill","none").attr("stroke","#000").attr("stroke-width",1).attr("shape-rendering","crispEdges");
Object.values(panes).forEach(p => {
  borders.append("rect").attr("x", L).attr("y", p.top).attr("width", R-L).attr("height", p.bot-p.top);
});
svg.append("line").attr("x1",0).attr("x2",W).attr("y1",0.5).attr("y2",0.5).attr("stroke","#a0a0a0").attr("shape-rendering","crispEdges");
svg.append("line").attr("x1",0.5).attr("x2",0.5).attr("y1",0).attr("y2",H).attr("stroke","#a0a0a0").attr("shape-rendering","crispEdges");

// axes
function styleAxis(g){
  g.select(".domain").remove();
  g.selectAll("text").attr("fill","#000").style("font-size",FONT).style("font-family",'"Liberation Sans",Arial,sans-serif');
  g.selectAll("line").attr("stroke","#000").attr("shape-rendering","crispEdges");
}
const axP = svg.append("g").attr("transform", `translate(${R},0)`)
  .call(d3.axisRight(yP).tickValues(priceTicks).tickFormat(d3.format(".5f")).tickSize(3).tickPadding(3));
styleAxis(axP);

const axM = svg.append("g").attr("transform", `translate(${R},0)`)
  .call(d3.axisRight(yM).tickValues(momRange.slice().reverse()).tickFormat(d3.format(".4f")).tickSize(0).tickPadding(5));
styleAxis(axM);
axM.selectAll("text").attr("y", (d) => d === momRange[1] ? 6 : -7);

const axK = svg.append("g").attr("transform", `translate(${R},0)`)
  .call(d3.axisRight(yK).tickValues(mom10Range.slice().reverse()).tickFormat(d3.format(".4f")).tickSize(0).tickPadding(5));
styleAxis(axK);
axK.selectAll("text").attr("y", (d) => d === mom10Range[1] ? 8 : -7);

const labelBars = d3.range(0, n, 16);
const axT = svg.append("g").attr("transform", `translate(0,${panes.mom10.bot})`)
  .call(d3.axisBottom(x).tickValues(labelBars).tickFormat((d,i) => timeLabels[i]).tickSize(4).tickPadding(3));
styleAxis(axT);
axT.selectAll("text").attr("text-anchor","start").attr("x", -1);

// label boxes (black with white text)
function tagBox(yPix, text){
  const g = svg.append("g");
  const t = g.append("text").attr("x", R + 3).attr("y", yPix).attr("dy","0.34em")
    .attr("fill","#fff").style("font-size",FONT).text(text);
  const w = t.node().getComputedTextLength();
  g.insert("rect","text").attr("x", R + 2).attr("y", Math.round(yPix) - 5)
    .attr("width", w + 2).attr("height", 10).attr("fill","#000");
}
tagBox(yP(bidPrice), d3.format(".5f")(bidPrice));
momLevels.forEach(v => tagBox(yM(v), String(v)));
mom10Levels.forEach(v => tagBox(yK(v), String(v)));

// header texts
svg.append("path").attr("d","M9,10L15.5,10L12.25,14Z").attr("fill","#000");
svg.append("text").attr("x", 20).attr("y", 12).attr("dy","0.34em").style("font-size",FONT)
  .style("white-space","pre").attr("fill","#000").text(headerText);
svg.append("text").attr("x", 8.5).attr("y", panes.mom.top + 8.5).attr("dy","0.34em").style("font-size",FONT)
  .attr("fill","#000").text(momLabel);
svg.append("text").attr("x", 8.5).attr("y", panes.mom10.top + 8.5).attr("dy","0.34em").style("font-size",FONT)
  .attr("fill","#000").text(mom10Label);

// annotations
const ann = svg.append("g").attr("fill","none").attr("stroke",red).attr("stroke-width",3).attr("stroke-linejoin","miter");
const arrowLine = d3.line().x(d => x(d[0])).y(d => yP(d[1])).curve(d3.curveLinearClosed);
ann.append("path").attr("d", arrowLine(downArrow));
ann.append("path").attr("d", arrowLine(upArrow));

function roundBox(x0, x1, y0, y1, r){
  const p = d3.path();
  p.moveTo(x0 + r, y0); p.lineTo(x1 - r, y0); p.arcTo(x1, y0, x1, y0 + r, r);
  p.lineTo(x1, y1 - r); p.arcTo(x1, y1, x1 - r, y1, r);
  p.lineTo(x0 + r, y1); p.arcTo(x0, y1, x0, y1 - r, r);
  p.lineTo(x0, y0 + r); p.arcTo(x0, y0, x0 + r, y0, r); p.closePath();
  return p.toString();
}
ann.append("path").attr("d", roundBox(x(boxHigh.x0), x(boxHigh.x1), yP(boxHigh.topPrice), yM(boxHigh.bottomMom), 14));
ann.append("path").attr("d", roundBox(x(boxLow.x0), x(boxLow.x1), yM(boxLow.topMom), yK(boxLow.bottomMom10), 14));
</script>
</body></html>
